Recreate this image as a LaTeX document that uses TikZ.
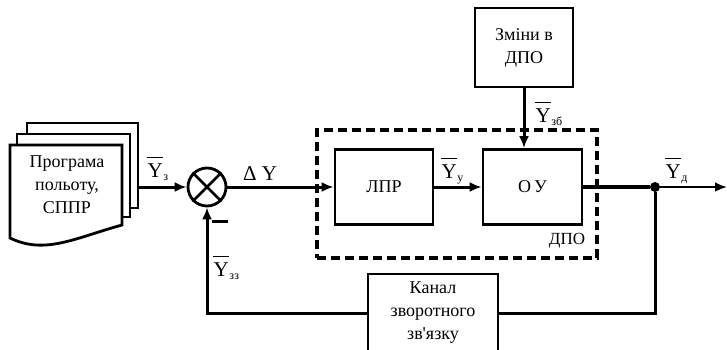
\documentclass[tikz,border=0pt]{standalone}
\usepackage{fontspec}
\setmainfont{Liberation Serif}
\usetikzlibrary{arrows.meta,calc}
\newcommand\ylab[1]{$\overline{\hbox{\rule{0pt}{0.86em}\kern0.5pt Y\kern0.5pt}}_{\hbox{\fontsize{12}{12}\selectfont #1}}$}
\tikzset{
  blk/.style={draw, line width=2.8pt, inner sep=0pt, align=center,
    font=\fontsize{18}{23}\selectfont},
  sig/.style={line width=3pt},
  arr/.style={line width=3pt, -{Latex[length=12pt,width=10pt]}},
  lab/.style={inner sep=0pt, anchor=base west, font=\fontsize{21}{21}\selectfont},
  txt/.style={inner sep=0pt, align=center, font=\fontsize{18}{23}\selectfont},
}
\begin{document}
\begin{tikzpicture}[x=1pt,y=-1pt]
\useasboundingbox (0,0) rectangle (727,350);
\clip (0,0) rectangle (727,350);
% document stack
\begin{scope}[line width=2.8pt, line join=miter]
\draw (27,134) -- (27,123) -- (138,123) -- (138,208) -- (130,208);
\draw (17,145) -- (17,134) -- (130,134) -- (130,217) -- (122,217);
\draw (10,145) -- (122,145) -- (122,225) .. controls (75,238) and (45,255) .. (10,238) -- cycle;
\end{scope}
\node[txt] (prog) at (67,185) {Програма\\польоту,\\СППР};
\coordinate (progout) at (138,187);
% summing junction
\node[draw, circle, line width=2.8pt, minimum size=38pt, inner sep=0pt] (sum) at (207,187) {};
\draw[line width=2.8pt] (sum.north west) -- (sum.south east) (sum.north east) -- (sum.south west);
% DPO dashed frame
\node[draw, line width=3.5pt, dash pattern=on 9pt off 5pt, minimum width=280pt, minimum height=128pt, inner sep=0pt] (dpo) at (457,194) {};
\node[txt, font=\fontsize{17}{17}\selectfont] (dpolab) at (567,241) {ДПО};
% blocks
\node[blk, minimum width=98pt, minimum height=75pt] (lpr) at (384,187) {ЛПР};
\node[blk, minimum width=99pt, minimum height=75pt] (ou) at (532.5,187) {О\,У};
\node[blk, minimum width=98pt, minimum height=79pt] (zmin) at (524,47.5) {Зміни в\\ДПО};
\node[blk, minimum width=130pt, minimum height=78pt] (canal) at (433,313) {Канал\\зворотного\\зв\textquotesingle язку};
% junction and output
\node[circle, fill, inner sep=0pt, minimum size=10pt] (junc) at (655,187) {};
\coordinate (out) at (727,187);
% connectors
\draw[arr] (progout) -- (sum.west);
\draw[arr] (sum.east) -- (lpr.west);
\draw[arr] (lpr.east) -- (ou.west);
\draw[arr] (zmin.south) -- (zmin.south |- ou.north);
\draw[sig, line width=3.5pt] (ou.east) -- (junc);
\draw[line width=2.4pt, -{Latex[length=12pt,width=10pt]}] (junc) -- (out);
\draw[sig] (junc) |- (canal.east);
\draw[arr] (canal.west) -| (sum.south);
\draw[line width=2.6pt] ([xshift=5pt,yshift=-14pt]sum.south) -- ++(16,0);
% labels
\node[lab] (ly1) at (147,177) {\ylab{з}};
\node[lab] (ldy) at (243,180) {Δ Y};
\node[lab] (ly2) at (213,276) {\ylab{зз}};
\node[lab] (ly3) at (441,178) {\ylab{у}};
\node[lab] (ly4) at (535,122) {\ylab{зб}};
\node[lab] (ly5) at (665,178) {\ylab{д}};
\end{tikzpicture}
\end{document}
